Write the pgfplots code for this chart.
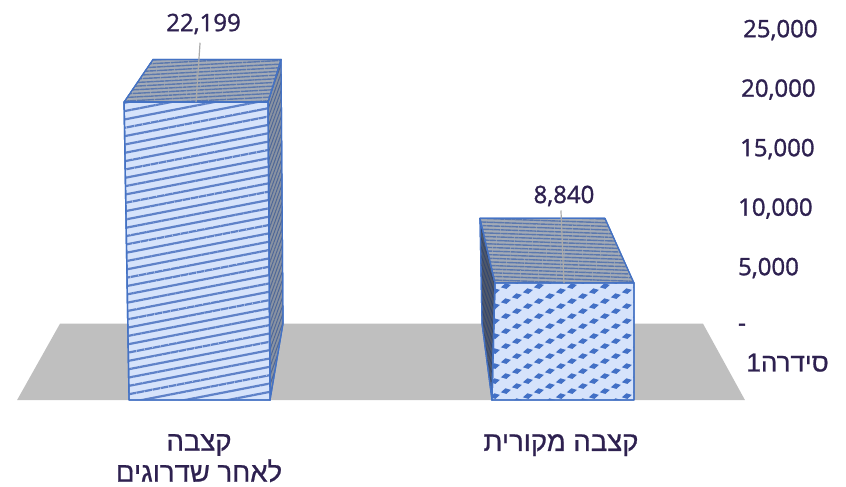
\documentclass[border=0pt]{standalone}
\usepackage{fontspec}
\usepackage{pgfplots}
\pgfplotsset{compat=1.18}
\usetikzlibrary{patterns,patterns.meta}
\setmainfont{Open Sans}[RawFeature={embolden=1.2}]
\newfontfamily\hefont{Liberation Sans}[Script=Hebrew,RawFeature={embolden=0.8}]
\TeXXeTstate=1
\definecolor{ink}{HTML}{2E2150}
\definecolor{edge}{HTML}{4472C4}
\definecolor{floorgray}{HTML}{BFBFBF}
\definecolor{leader}{HTML}{ABABAB}
\definecolor{frontfill}{HTML}{D6E3FB}
\definecolor{hatch}{HTML}{5F82C8}
\definecolor{dot}{HTML}{4270C6}
\definecolor{capfill}{HTML}{A4ABB6}
\definecolor{capline}{HTML}{5B78AE}
\definecolor{sideA}{HTML}{8A93A2}
\definecolor{sideAline}{HTML}{4E6798}
\definecolor{sideB}{HTML}{4F5869}
\definecolor{sideBline}{HTML}{35476E}
% Diagonal rows of small lozenges for the lower bar's front face
\pgfdeclarepatternformonly{lozenges}{\pgfqpoint{-6pt}{-4pt}}{\pgfqpoint{28pt}{14pt}}{\pgfqpoint{33pt}{15pt}}{%
  \foreach \dx/\dy in {0/0,11/5,22/10}{%
    \pgfpathmoveto{\pgfqpoint{\dimexpr\dx pt-5pt}{\dimexpr\dy pt-1.2pt}}%
    \pgfpathlineto{\pgfqpoint{\dimexpr\dx pt+0.5pt}{\dimexpr\dy pt-2.8pt}}%
    \pgfpathlineto{\pgfqpoint{\dimexpr\dx pt+5pt}{\dimexpr\dy pt+1.2pt}}%
    \pgfpathlineto{\pgfqpoint{\dimexpr\dx pt-0.5pt}{\dimexpr\dy pt+2.8pt}}%
    \pgfpathclose
    \pgfusepath{fill}%
  }%
}
\begin{document}
\begin{tikzpicture}
\begin{axis}[
  scale only axis, width=846pt, height=486pt,
  xmin=0, xmax=846, ymin=-13655, ymax=27185,
  clip=false,
  axis line style={draw=none},
  major tick length=0pt,
  scaled y ticks=false,
  ytick={0,5000,10000,15000,20000,25000},
  yticklabels={-,{5,000},{10,000},{\hspace{2pt}15,000},{\hspace{3pt}20,000},{\hspace{5pt}25,000}},
  yticklabel pos=right,
  yticklabel style={anchor=west, inner sep=0pt, xshift=-108pt, yshift=-4pt, font=\fontsize{24}{28}\selectfont, text=ink},
  xtick={199,561},
  xticklabels={{\hefont\beginR קצבה\endR\\[2pt]\hefont\beginR לאחר שדרוגים\endR},{\hefont\beginR קצבה מקורית\endR}},
  xticklabel style={anchor=north, align=center, inner sep=0pt, yshift=52pt, font=\fontsize{27.5}{29}\selectfont, text=ink},
  every axis plot/.append style={no marks, line join=round},
]
% floor
\addplot[fill=floorgray, draw=none] coordinates {(17,-6429) (60,0) (703,0) (745,-6429)} --cycle;

% taller bar: side, top, front
\addplot[draw=edge, line width=1.2pt, fill=sideA,
  postaction={pattern={Lines[angle=70,distance=3pt,line width=1pt]}, pattern color=sideAline}]
  coordinates {(268,18613) (281,22199) (283,0) (270,-6429)} --cycle;
\addplot[draw=edge, line width=1.2pt, fill=capfill,
  postaction={pattern={Lines[angle=3,distance=3.6pt,line width=1.4pt]}, pattern color=capline}]
  coordinates {(124,18613) (153,22199) (281,22199) (268,18613)} --cycle;
\addplot[draw=edge, line width=1.4pt, fill=frontfill,
  postaction={pattern={Lines[angle=11,distance=8.2pt,line width=2.2pt]}, pattern color=hatch}]
  coordinates {(124,18613) (268,18613) (270,-6429) (129,-6429)} --cycle;

% shorter bar: side, top, front
\addplot[draw=edge, line width=1.2pt, fill=sideB,
  postaction={pattern={Lines[angle=110,distance=3pt,line width=1pt]}, pattern color=sideBline}]
  coordinates {(480,8840) (495,3403) (492,-6429) (482,0)} --cycle;
\addplot[draw=edge, line width=1.2pt, fill=capfill,
  postaction={pattern={Lines[angle=-2,distance=3.6pt,line width=1.4pt]}, pattern color=capline}]
  coordinates {(480,8840) (605,8840) (634,3403) (495,3403)} --cycle;
\addplot[draw=edge, line width=1.4pt, fill=frontfill,
  postaction={pattern=lozenges, pattern color=dot}]
  coordinates {(495,3403) (634,3403) (634,-6429) (492,-6429)} --cycle;

% leader lines from the value labels
\addplot[draw=leader, line width=1.2pt] coordinates {(200,23600) (196,18613)};
\addplot[draw=leader, line width=1.2pt] coordinates {(561,9500) (564,3403)};

% value labels
\addplot[only marks, mark=none, point meta=y,
  nodes near coords,
  nodes near coords align={anchor=base},
  every node near coord/.append style={font=\fontsize{24}{28}\selectfont, text=ink, inner sep=0pt, yshift=28.3pt,
    /pgf/number format/assume math mode=true, /pgf/number format/1000 sep={,}}]
  coordinates {(203.5,22199)};
\addplot[only marks, mark=none, point meta=y,
  nodes near coords,
  nodes near coords align={anchor=base},
  every node near coord/.append style={font=\fontsize{24}{28}\selectfont, text=ink, inner sep=0pt, yshift=15.3pt,
    /pgf/number format/assume math mode=true, /pgf/number format/1000 sep={,}}]
  coordinates {(564,8840)};

% series name on the depth axis
\node[anchor=east, inner sep=0pt, text=ink, font=\fontsize{26}{29}\selectfont] at (axis cs:829,-3290) {\hefont\beginR סידרה1\endR};
\end{axis}
\end{tikzpicture}
\end{document}
